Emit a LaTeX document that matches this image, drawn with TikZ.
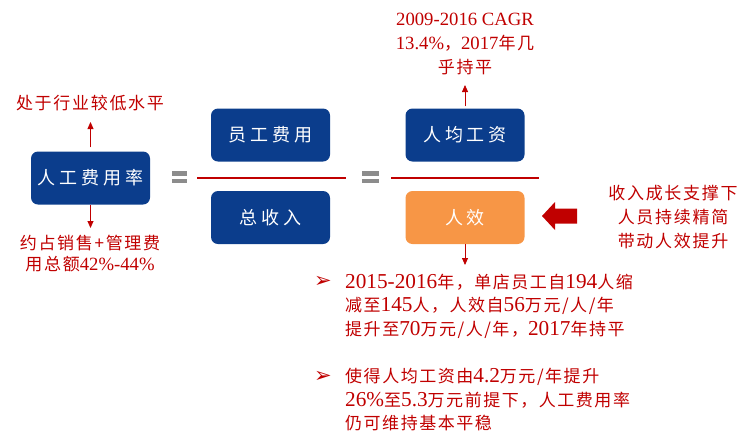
\documentclass[tikz,border=0pt]{standalone}
\usepackage{fontspec}
\setmainfont{Liberation Serif}[Scale=1.25]
\newfontfamily\latS{Liberation Serif}[Scale=1.1]
\newfontfamily\zhA[LetterSpace=10]{Noto Sans CJK SC}
\newfontfamily\zhB[LetterSpace=22]{Noto Sans CJK SC}
\newfontfamily\zhC[LetterSpace=9]{Noto Sans CJK SC}
\newfontfamily\dejavu{DejaVu Sans}
\newcommand\Z[1]{{\zhA #1}}
\newcommand\Y[1]{{\zhC #1}}
\usetikzlibrary{arrows.meta}
\definecolor{navy}{RGB}{11,61,140}
\definecolor{orng}{RGB}{247,150,70}
\definecolor{redt}{RGB}{192,0,0}
\definecolor{barg}{RGB}{140,140,140}
\tikzset{
 box/.style={rounded corners=7pt, minimum width=119pt, minimum height=53pt, inner sep=0pt, text=white, font=\zhB\fontsize{18}{20}\selectfont},
 lbl/.style={text=redt, align=center, inner sep=0pt, font=\fontsize{17}{24}\selectfont},
 para/.style={text=redt, align=left, inner sep=0pt, anchor=west, font=\fontsize{17}{23.5}\selectfont},
 bul/.style={text=redt, font=\dejavu\fontsize{21}{21}\selectfont, inner sep=0pt},
 ar/.style={draw=redt, line width=0.8pt, -{Triangle[length=7pt,width=6pt]}},
 fracline/.style={draw=redt, line width=1.3pt},
 eqbar/.style={fill=barg},
}
\begin{document}
\begin{tikzpicture}[x=1pt,y=-1pt]
\useasboundingbox (0,0) rectangle (743,432);
% boxes
\node[box, fill=navy] (rate) at (90.5,178) {人工费用率};
\node[box, fill=navy] (cost) at (270.5,135) {员工费用};
\node[box, fill=navy] (rev)  at (270.5,217.5) {总收入};
\node[box, fill=navy] (wage) at (465,135) {人均工资};
\node[box, fill=orng] (eff)  at (465,217.5) {人效};
% equals signs
\fill[eqbar] (172,171) rectangle (187,175.5);
\fill[eqbar] (172,178.5) rectangle (187,183);
\fill[eqbar] (362,171) rectangle (379,175.5);
\fill[eqbar] (362,178.5) rectangle (379,183);
% fraction lines
\coordinate (f1a) at (197,178); \coordinate (f1b) at (346,178);
\coordinate (f2a) at (391,178); \coordinate (f2b) at (539,178);
\draw[fracline] (f1a) -- (f1b);
\draw[fracline] (f2a) -- (f2b);
% labels
\node[lbl] (rateTop) at (90,103) {\Z{处于行业较低水平}};
\node[lbl, font=\fontsize{17}{21}\selectfont] (rateBot) at (90,254) {\Z{约占销售+管理费}\\\Z{用总额}{\latS 42\%-44\%}};
\node[lbl] (wageTop) at (465,44) {{\latS 2009-2016 CAGR}\\{\latS 13.4\%}\Z{，}{\latS 2017}\Z{年几}\\\Z{乎持平}};
\node[lbl] (note) at (673,217) {\Z{收入成长支撑下}\\\Z{人员持续精简}\\\Z{带动人效提升}};
% arrows
\coordinate (rateUp) at (90.5,122);
\coordinate (rateDn) at (90.5,228);
\coordinate (wageUp) at (465,85);
\coordinate (effDn) at (465,265);
\draw[ar] ([yshift=4pt]rate.north) -- (rateUp);
\draw[ar] (rate.south) -- (rateDn);
\draw[ar] ([yshift=2pt]wage.north) -- (wageUp);
\draw[ar] (eff.south) -- (effDn);
% big block arrow
\fill[redt] (542,216) -- (555,202) -- (555,208.5) -- (577,208.5) -- (577,223.5) -- (555,223.5) -- (555,230) -- cycle;
% bullets
\node[bul] (m1) at (323,282) {➢};
\node[bul] (m2) at (323,377) {➢};
\node[para] (p1) at (345,306) {2015-2016\Y{年，单店员工自}194\Y{人缩}\\\Y{减至}145\Y{人，人效自}56\Y{万元/人/年}\\\Y{提升至}70\Y{万元/人/年，}2017\Y{年持平}};
\node[para] (p2) at (345,400) {\Y{使得人均工资由}4.2\Y{万元/年提升}\\26\%\Y{至}5.3\Y{万元前提下，人工费用率}\\\Y{仍可维持基本平稳}};
\end{tikzpicture}
\end{document}
